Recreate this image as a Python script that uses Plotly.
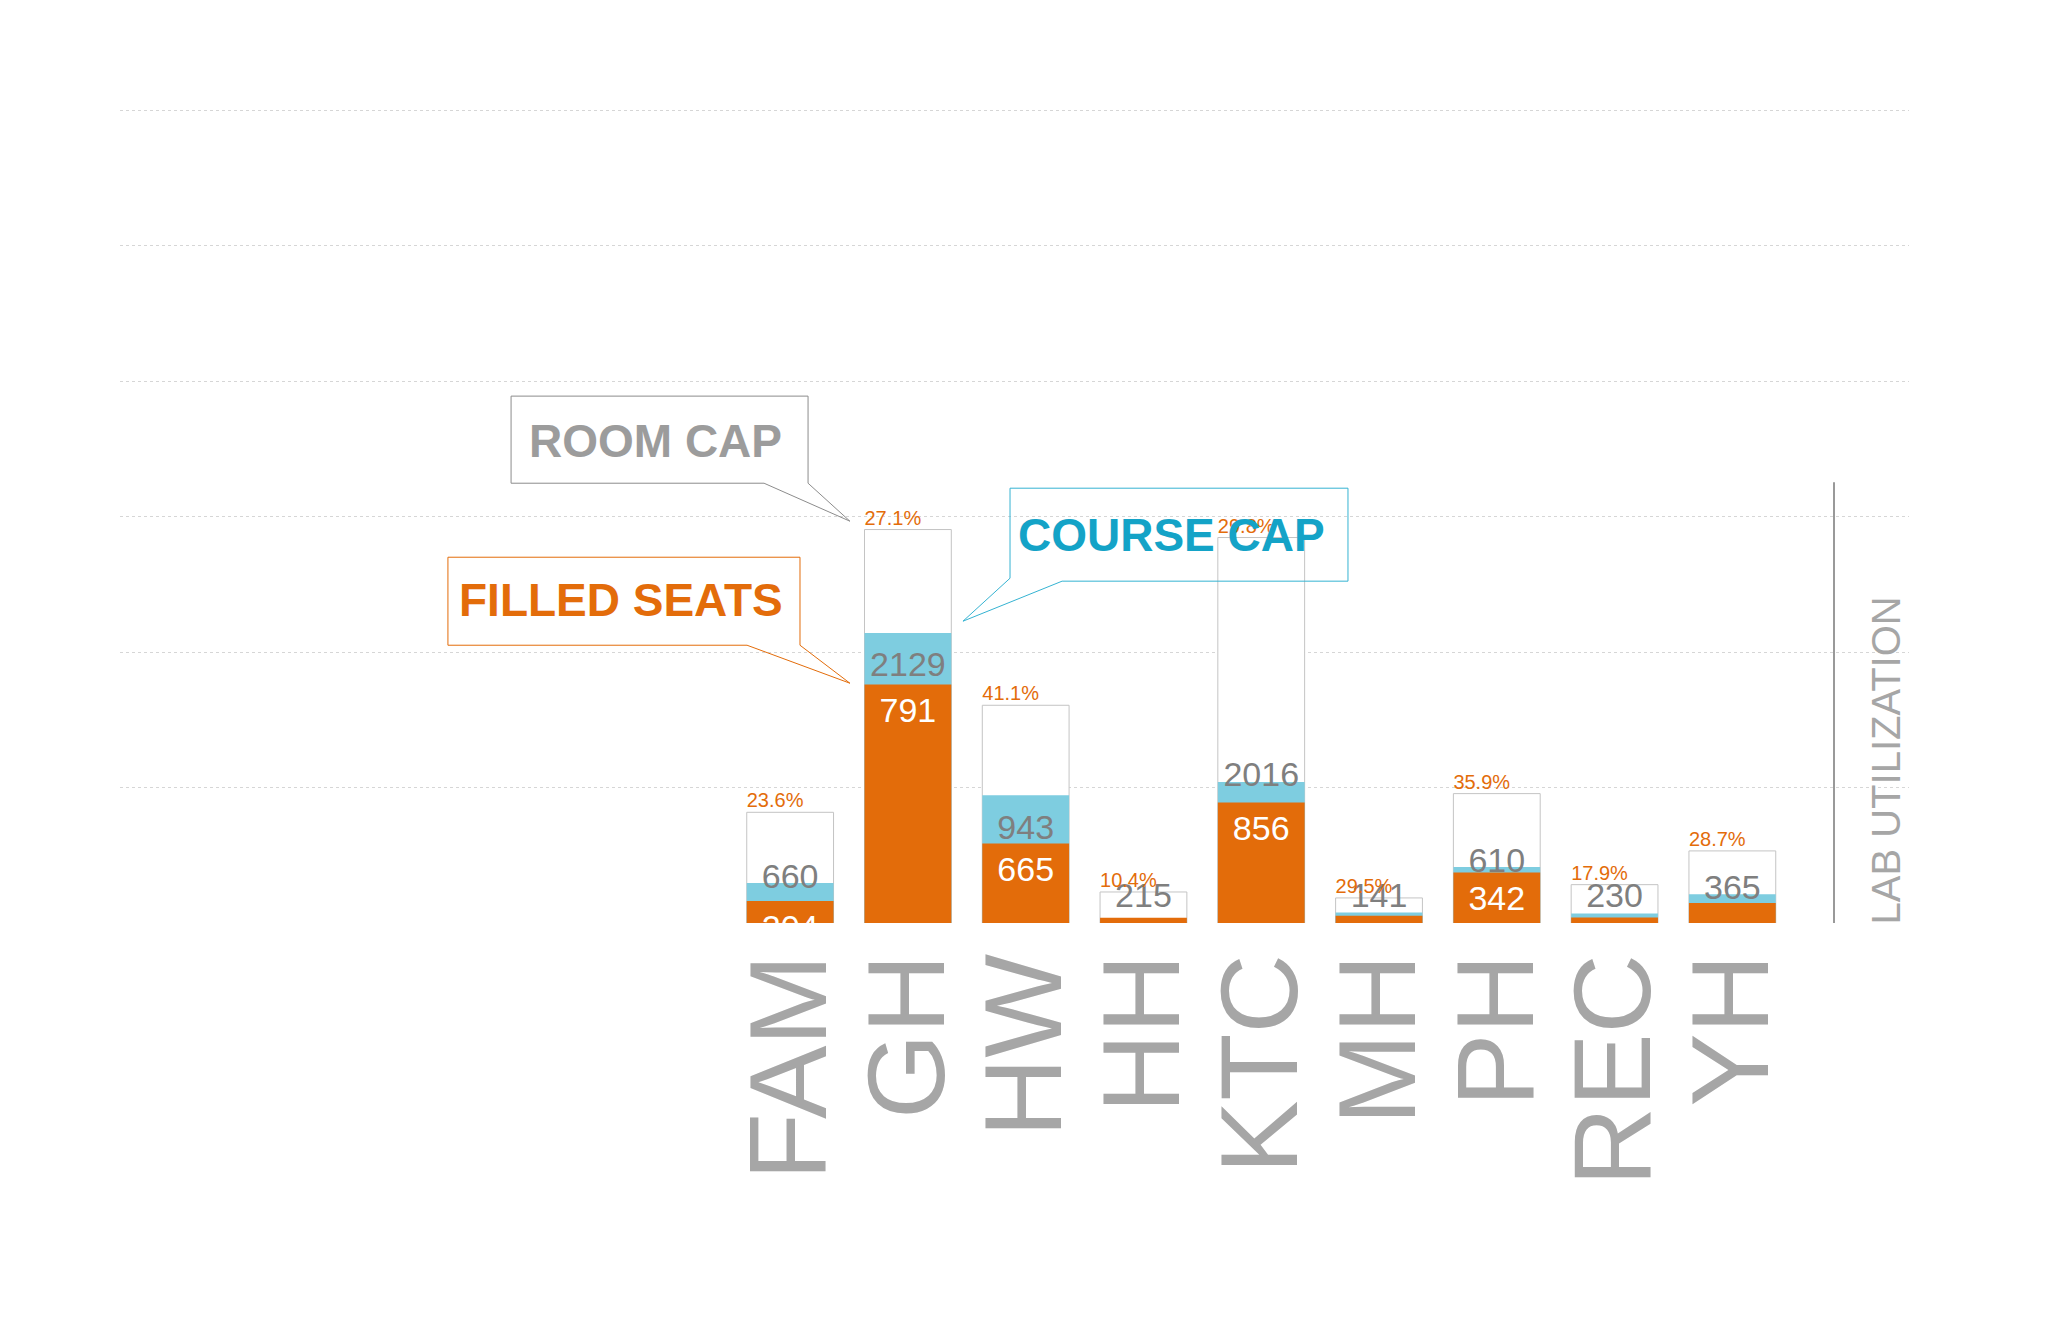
import plotly.graph_objects as go

buildings = ["FAM", "GH", "HW", "HH", "KTC", "MH", "PH", "REC", "YH"]
room_cap = [81.7, 290.4, 160.7, 22.9, 284.5, 18.5, 95.5, 28.3, 53.2]
course_cap = [29.5, 214.1, 94.3, 3.5, 104.1, 7.8, 41.3, 7.1, 21.2]
filled = [16.2, 176.0, 58.6, 3.9, 88.9, 5.4, 37.2, 4.1, 14.8]

room_lbl = ["660", "2129", "943", "215", "2016", "141", "610", "230", "365"]
filled_lbl = ["204", "791", "665", "", "856", "", "342", "", ""]
util_lbl = ["23.6%", "27.1%", "41.1%", "10.4%", "29.8%", "29.5%", "35.9%", "17.9%", "28.7%"]

ORANGE = "#e36c0a"
CYAN = "#7ecde0"
TEAL = "#14a3c7"
GRAY_TXT = "#7f7f7f"
LIGHT = "#a6a6a6"
FONT = "Liberation Sans, Arial, sans-serif"

W, H = 2048, 1325
OFF = 8  # page body margin
# screen pixels of the plot box (gridline 0 and gridline 600)
X_LEFT, X_RIGHT = 120, 1909
Y_BASE, Y_TOP600 = 922.7, 110
YMAX = 600
px_per_unit = (Y_BASE - Y_TOP600) / YMAX
YTOP = 603
top_px = Y_BASE - YTOP * px_per_unit
L = X_LEFT - OFF
R = W - X_RIGHT + OFF
T = top_px - OFF
B = H - Y_BASE + OFF
BW = 0.737


def paper(x, y):
    return (x - X_LEFT) / (X_RIGHT - X_LEFT), (Y_BASE - y) / (Y_BASE - top_px)


def path(points):
    pts = [paper(x, y) for x, y in points]
    return "M " + " L ".join(f"{x:.4f},{y:.4f}" for x, y in pts) + " Z"


xs = list(range(len(buildings)))

fig = go.Figure()
fig.add_trace(go.Bar(x=xs, y=room_cap, width=BW, marker=dict(color="white", line=dict(color="#c4c4c4", width=1))))
fig.add_trace(go.Bar(x=xs, y=course_cap, width=BW, marker=dict(color=CYAN, line=dict(width=0))))
fig.add_trace(go.Bar(x=xs, y=filled, width=BW, marker=dict(color=ORANGE, line=dict(width=0))))

# room cap numbers: inside the cyan band when it is tall, else centred just over its top
room_y = []
for c, f in zip(course_cap, filled):
    if (c - f) * px_per_unit > 30:
        room_y.append(c - 35 / px_per_unit)
    else:
        room_y.append(max(c + 4 / px_per_unit, 18))
fig.add_trace(go.Scatter(x=xs, y=room_y, mode="text", text=room_lbl, textposition="middle center",
                         textfont=dict(family=FONT, size=34, color=GRAY_TXT), cliponaxis=True))

fig.add_trace(go.Scatter(x=xs, y=[v - 12 / px_per_unit for v in filled], mode="text", text=filled_lbl,
                         textposition="bottom center",
                         textfont=dict(family=FONT, size=34, color="white"), cliponaxis=True))

fig.add_trace(go.Scatter(x=[i - BW / 2 for i in xs], y=room_cap, mode="text", text=util_lbl,
                         textposition="top right",
                         textfont=dict(family=FONT, size=20, color=ORANGE), cliponaxis=False))

shapes = [
    dict(type="path", xref="paper", yref="paper", layer="above",
         path=path([(511, 396), (808, 396), (808, 483), (850, 521), (764, 483), (511, 483)]),
         line=dict(color="#8c8c8c", width=1), fillcolor="rgba(0,0,0,0)"),
    dict(type="path", xref="paper", yref="paper", layer="above",
         path=path([(448, 557), (800, 557), (800, 645), (850, 683), (747, 645), (448, 645)]),
         line=dict(color=ORANGE, width=1), fillcolor="rgba(0,0,0,0)"),
    dict(type="path", xref="paper", yref="paper", layer="above",
         path=path([(1010, 488), (1348, 488), (1348, 581), (1062, 581), (963, 621), (1010, 578)]),
         line=dict(color="#35b3d2", width=1), fillcolor="rgba(0,0,0,0)"),
]
x0, y0 = paper(1834, 482)
x1, y1 = paper(1834, Y_BASE)
shapes.append(dict(type="line", xref="paper", yref="paper", x0=x0, x1=x1, y0=y0, y1=y1,
                   line=dict(color="#999999", width=2)))

annotations = []
for txt, (cx, cy), col in [("ROOM CAP", (655, 441), "#9c9c9c"),
                           ("FILLED SEATS", (621, 600), ORANGE),
                           ("COURSE CAP", (1171, 535), TEAL)]:
    ax, ay = paper(cx, cy)
    annotations.append(dict(x=ax, y=ay, xref="paper", yref="paper", text=f"<b>{txt}</b>", showarrow=False,
                            font=dict(family=FONT, size=46, color=col), xanchor="center", yanchor="middle"))
lx, ly = paper(1885.5, Y_BASE)
annotations.append(dict(x=lx, y=ly, xref="paper", yref="paper", text="LAB UTILIZATION", showarrow=False,
                        textangle=-90, font=dict(family=FONT, size=40, color=LIGHT),
                        xanchor="center", yanchor="bottom", yshift=-4))

fig.update_layout(
    width=W, height=H,
    margin=dict(l=L, r=R, t=T, b=B),
    paper_bgcolor="white", plot_bgcolor="white",
    barmode="overlay", showlegend=False,
    shapes=shapes, annotations=annotations,
    xaxis=dict(range=[-5.69, 9.50], tickmode="array", tickvals=xs, ticktext=buildings, tickangle=-90,
               tickfont=dict(family=FONT, size=110, color=LIGHT), showgrid=False, zeroline=False,
               showline=False, ticks="", ticklabelstandoff=8),
    yaxis=dict(range=[0, YTOP], tickmode="array", tickvals=list(range(0, YMAX + 1, 100)),
               showticklabels=False, showgrid=True,
               gridcolor="#d6d6d6", griddash="dot", gridwidth=1, zeroline=False, showline=False),
)

fig.write_html("out.html")
